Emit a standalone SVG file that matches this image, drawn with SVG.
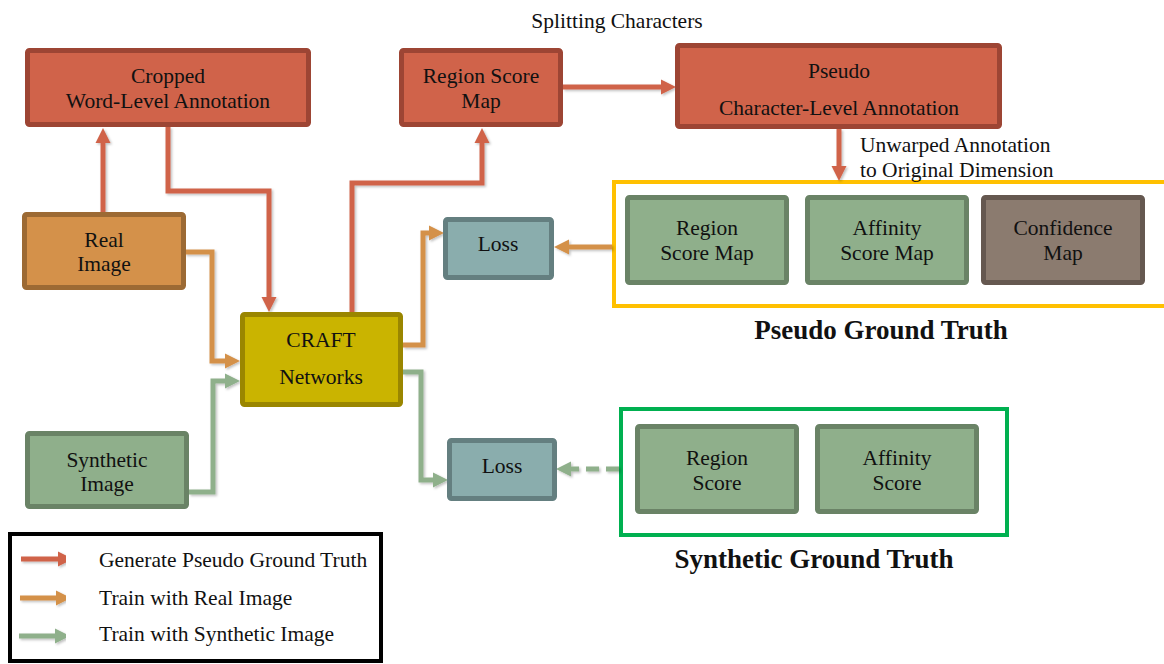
<svg xmlns="http://www.w3.org/2000/svg" width="1164" height="664" viewBox="0 0 1164 664">
  <style>
    text { font-family: "Liberation Serif", "Times New Roman", serif; font-size: 21.5px; fill: #111; text-anchor: middle; }
    .lbl { text-anchor: start; }
    .title { font-weight: bold; font-size: 27px; }
    .node { stroke-width: 5; }
    .red { fill: #d0634a; stroke: #9d4534; }
    .org { fill: #d4914a; stroke: #9c6a34; }
    .grn { fill: #8faf8b; stroke: #6a8366; }
    .brn { fill: #8b7b6f; stroke: #655850; }
    .loss { fill: #8aadad; stroke: #647f80; }
    .craft { fill: #cab400; stroke: #9a8600; }
    .c { fill: none; stroke-width: 5; stroke-linejoin: miter; }
    .c-red { stroke: #d0634a; }
    .c-org { stroke: #d4914a; }
    .c-grn { stroke: #8fb08b; }
  </style>
  <defs>
    <filter id="shadow" x="-10%" y="-10%" width="130%" height="130%">
      <feDropShadow dx="1.5" dy="1.5" stdDeviation="1.2" flood-color="#000" flood-opacity="0.25"/>
    </filter>
    <marker id="ah-red" markerUnits="userSpaceOnUse" markerWidth="16" markerHeight="16" viewBox="0 -8 16 16" refX="0" refY="0" orient="auto">
      <path d="M0,-7.5 L15,0 L0,7.5 Z" fill="#d0634a"/>
    </marker>
    <marker id="ah-org" markerUnits="userSpaceOnUse" markerWidth="16" markerHeight="16" viewBox="0 -8 16 16" refX="0" refY="0" orient="auto">
      <path d="M0,-7.5 L15,0 L0,7.5 Z" fill="#d4914a"/>
    </marker>
    <marker id="ah-grn" markerUnits="userSpaceOnUse" markerWidth="16" markerHeight="16" viewBox="0 -8 16 16" refX="0" refY="0" orient="auto">
      <path d="M0,-7.5 L15,0 L0,7.5 Z" fill="#8fb08b"/>
    </marker>
  </defs>

  <rect width="1164" height="664" fill="#fff"/>

  <!-- grouping frames -->
  <g id="pseudo-gt">
    <rect x="614" y="182" width="560" height="124" fill="none" stroke="#ffc000" stroke-width="4"/>
    <text class="title" x="881" y="339">Pseudo Ground Truth</text>
  </g>
  <g id="synthetic-gt">
    <rect x="621" y="409" width="386" height="126" fill="none" stroke="#00b050" stroke-width="4"/>
    <text class="title" x="814" y="568">Synthetic Ground Truth</text>
  </g>

  <!-- connectors -->
  <g id="connectors" filter="url(#shadow)">
    <path class="c c-red" d="M103,212 V143" marker-end="url(#ah-red)"/>
    <path class="c c-red" d="M168,127 V191 H269 V297" marker-end="url(#ah-red)"/>
    <path class="c c-red" d="M352,312 V183 H482 V143" marker-end="url(#ah-red)"/>
    <path class="c c-red" d="M563,87 H661" marker-end="url(#ah-red)"/>
    <path class="c c-red" d="M839,129 V166" marker-end="url(#ah-red)"/>
    <path class="c c-org" d="M185,252 H212 V361 H225" marker-end="url(#ah-org)"/>
    <path class="c c-org" d="M403,345 H423 V233 H429" marker-end="url(#ah-org)"/>
    <path class="c c-org" d="M612,247 H569" marker-end="url(#ah-org)"/>
    <path class="c c-grn" d="M189,492 H213 V381 H225" marker-end="url(#ah-grn)"/>
    <path class="c c-grn" d="M403,372 H421 V480 H433" marker-end="url(#ah-grn)"/>
    <path class="c c-grn" d="M619,469 H571" stroke-dasharray="13 7" marker-end="url(#ah-grn)"/>
  </g>

  <!-- connector annotations -->
  <text x="617" y="28">Splitting Characters</text>
  <text class="lbl" x="860" y="152">Unwarped Annotation</text>
  <text class="lbl" x="860" y="177">to Original Dimension</text>

  <!-- nodes -->
  <g id="cropped-word">
    <rect class="node red" x="27.5" y="50.5" width="281" height="74" rx="2"/>
    <text x="168" y="83">Cropped</text>
    <text x="168" y="108">Word-Level Annotation</text>
  </g>
  <g id="region-score-map">
    <rect class="node red" x="401.5" y="50.5" width="159" height="74" rx="2"/>
    <text x="481" y="83">Region Score</text>
    <text x="481" y="108">Map</text>
  </g>
  <g id="pseudo-char">
    <rect class="node red" x="677.5" y="45.5" width="322" height="81" rx="2"/>
    <text x="839" y="78">Pseudo</text>
    <text x="839" y="115">Character-Level Annotation</text>
  </g>
  <g id="real-image">
    <rect class="node org" x="24.5" y="214.5" width="159" height="73" rx="2"/>
    <text x="104" y="247">Real</text>
    <text x="104" y="271">Image</text>
  </g>
  <g id="synthetic-image">
    <rect class="node grn" x="27.5" y="433.5" width="159" height="73" rx="2"/>
    <text x="107" y="467">Synthetic</text>
    <text x="107" y="491">Image</text>
  </g>
  <g id="craft">
    <rect class="node craft" x="242.5" y="314.5" width="158" height="90" rx="2"/>
    <text x="321" y="347">CRAFT</text>
    <text x="321" y="384">Networks</text>
  </g>
  <g id="loss-real">
    <rect class="node loss" x="445.5" y="219.5" width="106" height="58" rx="2"/>
    <text x="498" y="251">Loss</text>
  </g>
  <g id="loss-synth">
    <rect class="node loss" x="449.5" y="440.5" width="105" height="58" rx="2"/>
    <text x="502" y="473">Loss</text>
  </g>
  <g id="pgt-region">
    <rect class="node grn" x="627.5" y="197.5" width="159" height="85" rx="2"/>
    <text x="707" y="235">Region</text>
    <text x="707" y="260">Score Map</text>
  </g>
  <g id="pgt-affinity">
    <rect class="node grn" x="807.5" y="197.5" width="159" height="85" rx="2"/>
    <text x="887" y="235">Affinity</text>
    <text x="887" y="260">Score Map</text>
  </g>
  <g id="pgt-confidence">
    <rect class="node brn" x="983.5" y="197.5" width="159" height="85" rx="2"/>
    <text x="1063" y="235">Confidence</text>
    <text x="1063" y="260">Map</text>
  </g>
  <g id="sgt-region">
    <rect class="node grn" x="637.5" y="426.5" width="159" height="85" rx="2"/>
    <text x="717" y="465">Region</text>
    <text x="717" y="490">Score</text>
  </g>
  <g id="sgt-affinity">
    <rect class="node grn" x="817.5" y="426.5" width="159" height="85" rx="2"/>
    <text x="897" y="465">Affinity</text>
    <text x="897" y="490">Score</text>
  </g>

  <!-- legend -->
  <g id="legend">
    <rect x="10" y="534" width="371" height="127" fill="#fff" stroke="#000" stroke-width="4"/>
    <g filter="url(#shadow)">
      <path class="c c-red" d="M21,559 H58" marker-end="url(#ah-red)"/>
      <path class="c c-org" d="M20,598 H56" marker-end="url(#ah-org)"/>
      <path class="c c-grn" d="M19,636 H55" marker-end="url(#ah-grn)"/>
    </g>
    <text class="lbl" x="99" y="567">Generate Pseudo Ground Truth</text>
    <text class="lbl" x="99" y="605">Train with Real Image</text>
    <text class="lbl" x="99" y="641">Train with Synthetic Image</text>
  </g>
</svg>
